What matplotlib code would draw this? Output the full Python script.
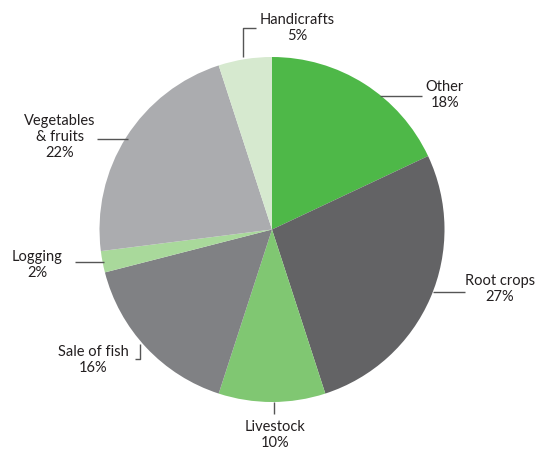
import matplotlib
matplotlib.use("Agg")
import matplotlib.pyplot as plt

# Income sources (percent), clockwise from 12 o'clock
categories = ["Other", "Root crops", "Livestock", "Sale of fish", "Logging",
              "Vegetables\n& fruits", "Handicrafts"]
shares = [18, 27, 10, 16, 2, 22, 5]
colors = ["#4eb848", "#636365", "#80c772", "#808184", "#a9d99b",
          "#abacaf", "#d6e9cf"]

W, H = 539, 449
fig = plt.figure(figsize=(W / 100, H / 100), dpi=100)
ax = fig.add_axes([0, 0, 1, 1])

cx, cy, r = 272, H - 229.5, 172.5
ax.pie(shares, colors=colors, startangle=90, counterclock=False,
       center=(cx, cy), radius=r, frame=True,
       wedgeprops=dict(linewidth=0))
ax.set_xlim(0, W)
ax.set_ylim(0, H)
ax.set_aspect("equal")
ax.axis("off")

line_kw = dict(color="#555555", lw=1.0, solid_capstyle="butt")
txt_kw = dict(ha="center", va="center", fontsize=10.5, color="#231f20",
              family="Lato", linespacing=1.15)

def py(y):
    return H - y

# leader lines (pixel layout) and label positions
leaders = {
    "Handicrafts": ([243, 243, 256], [57, 28, 28]),
    "Other": ([380, 422], [96, 96]),
    "Vegetables\n& fruits": ([97, 128], [139, 139]),
    "Logging": ([75, 104], [262, 262]),
    "Sale of fish": ([135, 140, 140], [359, 359, 344]),
    "Livestock": ([274, 274], [402, 414]),
    "Root crops": ([433, 465], [292, 292]),
}
label_pos = {
    "Handicrafts": (297, 28),
    "Other": (445, 95),
    "Vegetables\n& fruits": (60, 137),
    "Logging": (37, 265),
    "Sale of fish": (93, 360),
    "Livestock": (275, 435),
    "Root crops": (500, 289),
}

for name, val in zip(categories, shares):
    xs, ys = leaders[name]
    ax.plot(xs, [py(y) for y in ys], **line_kw)
    x, y = label_pos[name]
    ax.text(x, py(y), f"{name}\n{val}%", **txt_kw)

fig.savefig("out.png", dpi=100, facecolor="white")
